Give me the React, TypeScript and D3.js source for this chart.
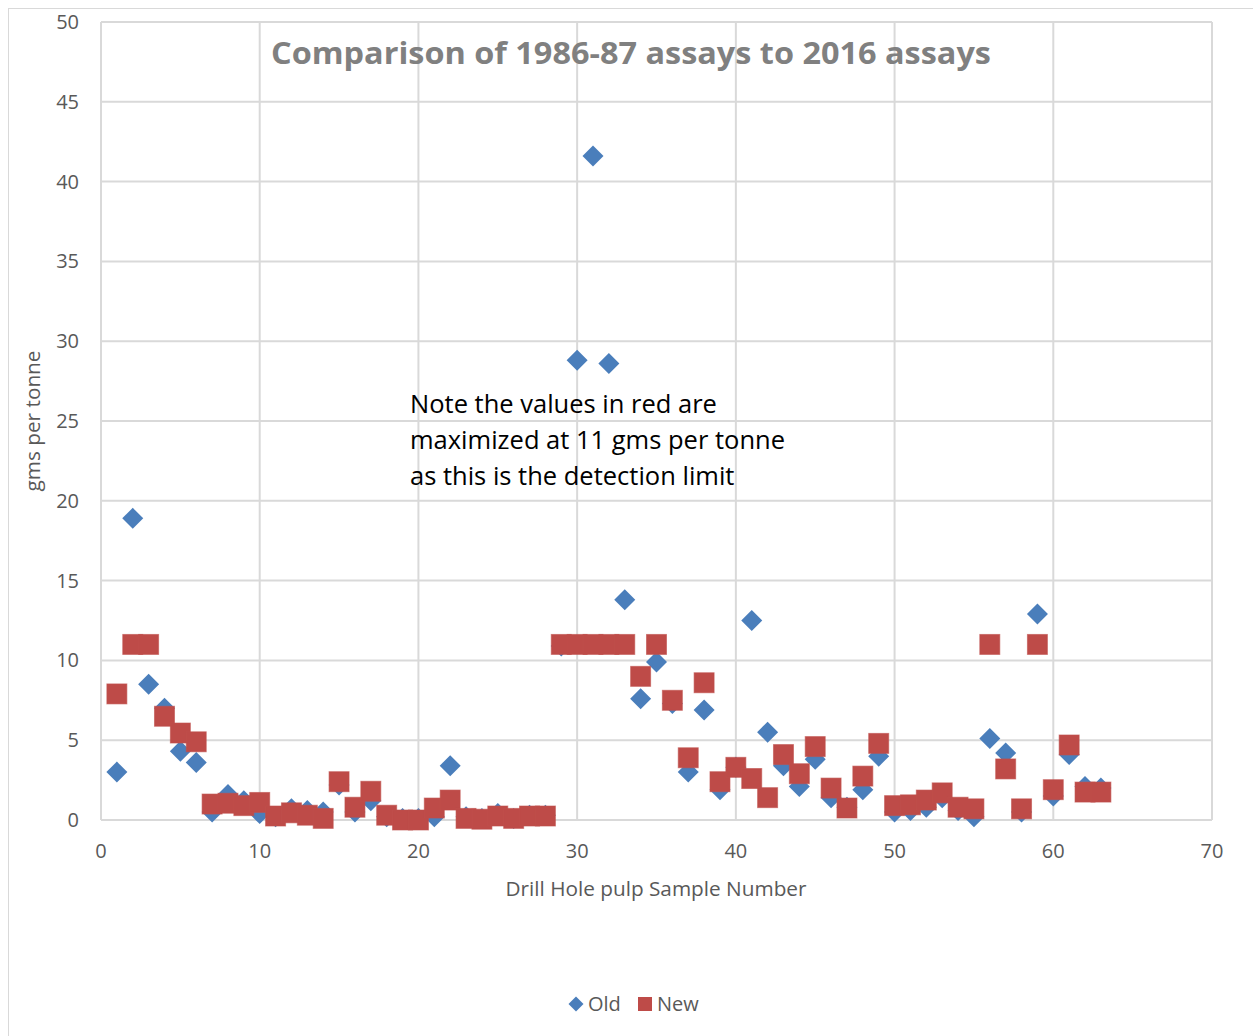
import React from "react";
import * as d3 from "d3";

const sampleNumbers = d3.range(1, 64);
const oldValues = [
  3.0, 18.9, 8.5, 7.0, 4.3, 3.6, 0.5, 1.6, 1.2, 0.4,
  0.2, 0.7, 0.6, 0.5, 2.2, 0.5, 1.2, 0.2, 0.1, 0.1,
  0.2, 3.4, 0.2, 0.1, 0.4, 0.1, 0.3, 0.3, 10.9, 28.8,
  41.6, 28.6, 13.8, 7.6, 9.9, 7.3, 3.0, 6.9, 1.9, 3.3,
  12.5, 5.5, 3.4, 2.1, 3.8, 1.4, 0.8, 1.9, 4.0, 0.5,
  0.6, 0.8, 1.4, 0.6, 0.2, 5.1, 4.2, 0.5, 12.9, 1.5,
  4.1, 2.1, 2.0,
];
const newValues = [
  7.9, 11, 11, 6.5, 5.45, 4.9, 1.0, 1.05, 0.9, 1.1,
  0.25, 0.45, 0.3, 0.1, 2.4, 0.8, 1.8, 0.3, 0.0, 0.0,
  0.75, 1.25, 0.1, 0.05, 0.25, 0.1, 0.25, 0.25, 11, 11,
  11, 11, 11, 9.0, 11, 7.5, 3.9, 8.6, 2.4, 3.3,
  2.6, 1.4, 4.1, 2.9, 4.6, 2.0, 0.75, 2.75, 4.8, 0.9,
  0.95, 1.25, 1.7, 0.8, 0.7, 11, 3.2, 0.7, 11, 1.9,
  4.7, 1.75, 1.75,
];
const xTicks = [0, 10, 20, 30, 40, 50, 60, 70];
const yTicks = [0, 5, 10, 15, 20, 25, 30, 35, 40, 45, 50];
const title = "Comparison of 1986-87 assays to 2016 assays";
const noteLines = [
  "Note the values in red are",
  "maximized at 11 gms per tonne",
  "as this is the detection limit",
];
const xTitle = "Drill Hole pulp Sample Number";
const yTitle = "gms per tonne";
const seriesNames = ["Old", "New"];

const W = 1253;
const H = 1036;
const left = 101, right = 1212, top = 22, bottom = 820;
const font = "'Open Sans', 'Noto Sans', sans-serif";
const grey = "#595959";
const blue = "#4a7ebb";
const red = "#be4b48";

export default function App() {
  const x = d3.scaleLinear().domain([0, 70]).range([left, right]);
  const y = d3.scaleLinear().domain([0, 50]).range([bottom, top]);
  const diamond = (cx: number, cy: number, r: number) =>
    `M${cx},${cy - r}L${cx + r},${cy}L${cx},${cy + r}L${cx - r},${cy}Z`;
  const sq = 20;
  return (
    <svg width={W} height={H} style={{ position: "absolute", left: 0, top: 0 }}>
      <rect x={0} y={0} width={W} height={H} fill="#fff" />
      <rect x={8.5} y={8.5} width={W + 10} height={H + 10} fill="none" stroke="#d9d9d9" />
      {yTicks.map((t) => (
        <line key={"gy" + t} x1={left} x2={right} y1={y(t)} y2={y(t)} stroke="#d9d9d9" strokeWidth={2} />
      ))}
      {xTicks.map((t) => (
        <line key={"gx" + t} x1={x(t)} x2={x(t)} y1={top} y2={bottom} stroke="#d9d9d9" strokeWidth={2} />
      ))}
      {yTicks.map((t) => (
        <text key={"ty" + t} x={left - 22} y={y(t)} dy="0.35em" textAnchor="end" fontFamily={font} fontSize={20} fill={grey}>
          {t}
        </text>
      ))}
      {xTicks.map((t) => (
        <text key={"tx" + t} x={x(t)} y={bottom + 38} textAnchor="middle" fontFamily={font} fontSize={20} fill={grey}>
          {t}
        </text>
      ))}
      <text x={656} y={896} textAnchor="middle" fontFamily={font} fontSize={20.5} fill={grey} textLength={301} lengthAdjust="spacingAndGlyphs">
        {xTitle}
      </text>
      <text transform={`translate(40,421) rotate(-90)`} textAnchor="middle" fontFamily={font} fontSize={20.5} fill={grey} textLength={141} lengthAdjust="spacingAndGlyphs">
        {yTitle}
      </text>
      <text x={631} y={64} textAnchor="middle" fontFamily={font} fontSize={30} fontWeight="bold" fill="#808080" textLength={720} lengthAdjust="spacingAndGlyphs">
        {title}
      </text>
      {noteLines.map((l, i) => (
        <text key={"n" + i} x={410} y={413 + i * 36} fontFamily={font} fontSize={25.5} fill="#000">
          {l}
        </text>
      ))}
      {sampleNumbers.map((n, i) => (
        <path key={"o" + n} d={diamond(x(n), y(oldValues[i]), 10.5)} fill={blue} />
      ))}
      {sampleNumbers.map((n, i) => (
        <rect key={"nw" + n} x={x(n) - sq / 2} y={y(newValues[i]) - sq / 2} width={sq} height={sq} fill={red} stroke="#c0504d" strokeOpacity={0.6} />
      ))}
      <path d={diamond(576, 1004, 7.5)} fill={blue} />
      <text x={588} y={1011} fontFamily={font} fontSize={20} fill={grey}>{seriesNames[0]}</text>
      <rect x={638} y={997} width={14} height={14} fill={red} />
      <text x={657} y={1011} fontFamily={font} fontSize={20} fill={grey}>{seriesNames[1]}</text>
    </svg>
  );
}
